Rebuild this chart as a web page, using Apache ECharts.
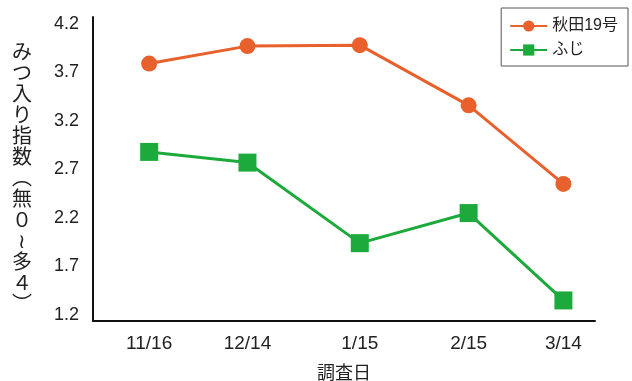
<!DOCTYPE html>
<html>
<head>
<meta charset="utf-8">
<script src="https://cdn.jsdelivr.net/npm/echarts@6/dist/echarts.min.js"></script>
<style>
  html, body { margin: 0; padding: 0; background: #fff; }
  #main { width: 632px; height: 381px; }
</style>
</head>
<body>
<div id="main"></div>
<script>
// 調査日 (days counted from 11/16) and their labels
var dateLabels = ['11/16', '12/14', '1/15', '2/15', '3/14'];
var dayOffsets = [0, 28, 60, 91, 118];

// みつ入り指数
var akita19 = [3.79, 3.97, 3.98, 3.36, 2.55];
var fuji = [2.88, 2.77, 1.94, 2.25, 1.35];

var yTicks = [1.2, 1.7, 2.2, 2.7, 3.2, 3.7, 4.2];

var FONT = '"Liberation Sans", "Noto Sans CJK JP", sans-serif';

function toPoints(values) {
  return values.map(function (v, i) { return [dayOffsets[i], v]; });
}

var chart = echarts.init(document.getElementById('main'));

// vertical axis title, one glyph per line (leading blank line pushes it down a bit)
var yName = ['', 'み', 'つ', '入', 'り', '指', '数', '︵', '無', '０', '≀', '多', '４', '︶'].join('\n');

var option = {
  backgroundColor: '#fff',
  animation: false,
  textStyle: { fontFamily: FONT },
  grid: {
    left: 93,
    right: 37,
    top: 17,
    bottom: 60,
    outerBoundsMode: 'none'
  },
  legend: {
    orient: 'vertical',
    right: 4,
    top: 8,
    padding: [10, 10, 8, 8],
    itemWidth: 37,
    itemHeight: 14,
    itemGap: 8,
    borderColor: '#555',
    borderWidth: 1,
    textStyle: { fontSize: 16, color: '#222', fontFamily: FONT },
    data: ['秋田19号', 'ふじ']
  },
  xAxis: {
    type: 'value',
    min: -16,
    max: 127,
    name: '調査日',
    nameLocation: 'middle',
    nameGap: 53,
    nameTextStyle: { fontSize: 18, color: '#222', verticalAlign: 'middle', fontFamily: FONT },
    axisLine: { onZero: false, lineStyle: { color: '#111', width: 2 } },
    axisTick: { show: false },
    splitLine: { show: false },
    axisLabel: {
      customValues: dayOffsets,
      margin: 13,
      fontSize: 19,
      color: '#222',
      formatter: function (v) {
        var i = dayOffsets.indexOf(v);
        return i >= 0 ? dateLabels[i] : '';
      }
    }
  },
  yAxis: {
    type: 'value',
    min: 1.138,
    max: 4.27,
    name: yName,
    nameLocation: 'middle',
    nameRotate: 0,
    nameGap: 71,
    nameTextStyle: {
      fontSize: 20,
      lineHeight: 21,
      color: '#222',
      align: 'center',
      verticalAlign: 'middle',
      fontFamily: FONT
    },
    axisLine: { show: true, onZero: false, lineStyle: { color: '#111', width: 2 } },
    axisTick: { show: false },
    splitLine: { show: false },
    axisLabel: {
      customValues: yTicks,
      margin: 14,
      fontSize: 18,
      color: '#222',
      formatter: function (v) { return v.toFixed(1); }
    }
  },
  series: [
    {
      name: '秋田19号',
      type: 'line',
      data: toPoints(akita19),
      symbol: 'circle',
      symbolSize: 16,
      lineStyle: { color: '#E8602B', width: 3 },
      itemStyle: { color: '#E8602B' }
    },
    {
      name: 'ふじ',
      type: 'line',
      data: toPoints(fuji),
      symbol: 'rect',
      symbolSize: 18,
      lineStyle: { color: '#1DAA3C', width: 3 },
      itemStyle: { color: '#1DAA3C' }
    }
  ]
};

chart.setOption(option);
</script>
</body>
</html>
